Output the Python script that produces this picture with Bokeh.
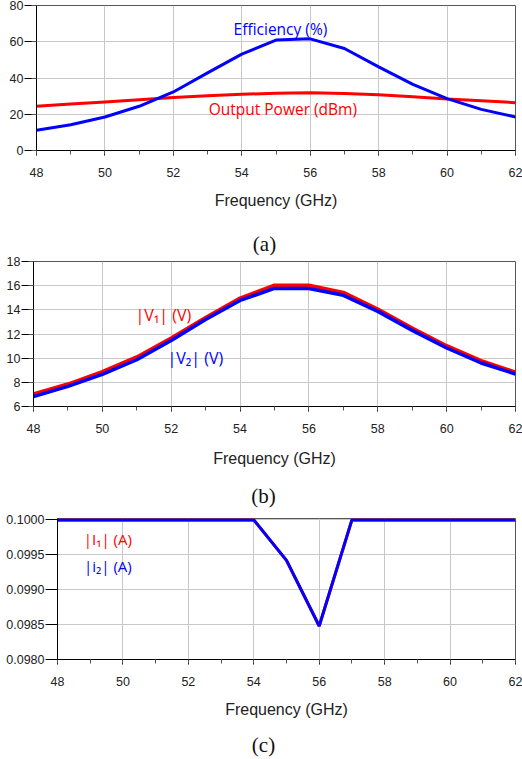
from bokeh.plotting import figure
from bokeh.models import Range1d, SingleIntervalTicker, Label, PrintfTickFormatter
from bokeh.embed import file_html
from bokeh.resources import INLINE

# ---------------- data ----------------
freq = [48, 49, 50, 51, 52, 53, 54, 55, 56, 57, 58, 59, 60, 61, 62]

efficiency = [11.2, 14.2, 18.5, 24.4, 32.3, 42.8, 53.2, 60.9, 61.6, 56.3, 46.1, 36.5, 28.6, 22.7, 18.5]
output_power = [24.4, 25.6, 26.8, 28.0, 29.2, 30.2, 31.0, 31.6, 31.9, 31.5, 30.8, 29.7, 28.4, 27.4, 26.4]

v1 = [7.04, 7.86, 8.88, 10.10, 11.66, 13.37, 14.97, 16.04, 16.04, 15.44, 14.06, 12.50, 11.03, 9.80, 8.85]
v2 = [6.82, 7.67, 8.66, 9.87, 11.47, 13.20, 14.78, 15.77, 15.77, 15.20, 13.87, 12.30, 10.84, 9.60, 8.69]

i1 = [0.1, 0.1, 0.1, 0.1, 0.1, 0.1, 0.1, 0.09942, 0.09848, 0.1, 0.1, 0.1, 0.1, 0.1, 0.1]
i2 = [0.1, 0.1, 0.1, 0.1, 0.1, 0.1, 0.1, 0.09942, 0.09848, 0.1, 0.1, 0.1, 0.1, 0.1, 0.1]

x_label = "Frequency (GHz)"
captions = ["(a)", "(b)", "(c)"]

RED = "#ff0000"
BLUE = "#0000ff"
GRID = "#c8c8c8"
TICKFONT = "Liberation Sans"
NOTEFONT = "Open Sans"


def make_fig(height, top, bottom, left, y_range, y_interval, y_minor,
             label_standoff=12, fmt=None):
    p = figure(width=522, height=height, x_range=Range1d(48, 62), y_range=y_range,
               output_backend="svg", toolbar_location=None,
               min_border_left=left, min_border_right=7,
               min_border_top=top, min_border_bottom=bottom)
    p.outline_line_color = "#555555"
    p.outline_line_width = 1
    p.background_fill_color = "white"
    p.border_fill_color = "white"

    xt = SingleIntervalTicker(interval=2, num_minor_ticks=2)
    yt = SingleIntervalTicker(interval=y_interval, num_minor_ticks=y_minor)
    p.xaxis.ticker = xt
    p.yaxis.ticker = yt
    p.xgrid.ticker = xt
    p.ygrid.ticker = yt
    for g in (p.xgrid, p.ygrid):
        g.grid_line_color = GRID
        g.grid_line_width = 1

    for ax in (p.xaxis, p.yaxis):
        ax.axis_line_color = "black"
        ax.axis_line_width = 1
        ax.major_tick_in = 0
        ax.major_tick_line_color = "black"
        ax.minor_tick_in = 0
        ax.minor_tick_line_color = "#555555"
        ax.major_label_text_font = TICKFONT
        ax.major_label_text_font_size = "12.5px"
        ax.major_label_text_color = "#222222"
    p.xaxis.major_tick_out = 5
    p.xaxis.minor_tick_out = 4
    p.yaxis.major_tick_out = 12
    p.yaxis.minor_tick_out = 5
    p.xaxis.major_label_standoff = 12
    p.yaxis.major_label_standoff = 1
    if y_minor == 0:
        p.yaxis.minor_tick_out = 0
    if fmt is not None:
        p.yaxis.formatter = PrintfTickFormatter(format=fmt)

    p.xaxis.axis_label = x_label
    p.xaxis.axis_label_text_font = TICKFONT
    p.xaxis.axis_label_text_font_size = "16px"
    p.xaxis.axis_label_text_font_style = "normal"
    p.xaxis.axis_label_text_color = "#222222"
    p.xaxis.axis_label_standoff = label_standoff
    return p


def note(p, x, y, text, color, size="16px"):
    p.add_layout(Label(x=x, y=y, text=text, text_color=color, text_font=NOTEFONT,
                       text_font_size=size, text_align="center",
                       text_baseline="middle"))


def caption_fig(height, x, y, text):
    c = figure(width=522, height=height, x_range=Range1d(0, 522), y_range=Range1d(0, height),
               output_backend="svg", toolbar_location=None,
               x_axis_type=None, y_axis_type=None,
               min_border=0, min_border_left=0, min_border_right=0,
               min_border_top=0, min_border_bottom=0)
    c.outline_line_color = None
    c.background_fill_color = "white"
    c.border_fill_color = "white"
    c.add_layout(Label(x=x, y=y, text=text, text_color="#111111",
                       text_font="Liberation Serif", text_font_size="21px",
                       text_align="center", text_baseline="middle"))
    return c


# (a)
pa = make_fig(226, 5, 76, 36, Range1d(0, 80), 20, 1)
pa.line(freq, output_power, line_color=RED, line_width=3)
pa.line(freq, efficiency, line_color=BLUE, line_width=3)
note(pa, 55.13, 66.8, "Efficiency (%)", BLUE, "15.5px")
note(pa, 55.2, 23.1, "Output Power (dBm)", RED, "15.5px")
ca = caption_fig(29, 264, 12, captions[0])

# (b)
pb = make_fig(226, 6, 75, 33, Range1d(6, 18), 2, 1, label_standoff=14)
pb.line(freq, v1, line_color=RED, line_width=3.5)
pb.line(freq, v2, line_color=BLUE, line_width=3.5)
note(pb, 51.77, 13.57, "|V\u2081| (V)", RED)
note(pb, 52.7, 10.04, "|V\u2082| (V)", BLUE)
cb = caption_fig(29, 263, 15, captions[1])

# (c)
pc = make_fig(220, 8, 71, 57, Range1d(0.098, 0.10002), 0.0005, 0, fmt="%.4f")
pc.line(freq, i1, line_color=RED, line_width=3)
pc.line(freq, i2, line_color=BLUE, line_width=3)
note(pc, 49.54, 0.099727, "|I\u2081| (A)", RED, "15px")
note(pc, 49.54, 0.099339, "|i\u2082| (A)", BLUE, "15px")
cc = caption_fig(29, 263, 15, captions[2])

open("out.html", "w").write(file_html([pa, ca, pb, cb, pc, cc], INLINE))
